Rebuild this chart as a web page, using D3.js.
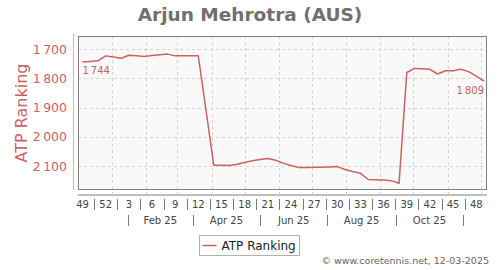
<!DOCTYPE html>
<html>
<head>
<meta charset="utf-8">
<script src="https://cdn.jsdelivr.net/npm/d3@7"></script>
<style>
  html, body { margin: 0; padding: 0; background: #fff; }
  svg { display: block; font-family: "DejaVu Sans", sans-serif; }
</style>
</head>
<body>
<div id="chart"></div>
<script>
// weekly ATP ranking, first point is week 49 of 2024
const startDate = Date.UTC(2024, 11, 5);
const ranks = [
  1744, 1742, 1740, 1723, 1727, 1731, 1721, 1723, 1725, 1722,
  1719, 1717, 1723, 1723, 1723, 1723, 1910, 2097, 2097, 2098,
  2094, 2088, 2082, 2078, 2074, 2080, 2090, 2098, 2105, 2105,
  2104, 2104, 2103, 2102, 2112, 2119, 2125, 2146, 2147, 2148,
  2150, 2159, 1780, 1766, 1767, 1769, 1785, 1774, 1774, 1769,
  1777, 1792, 1809
];
const weekLabels = ["49", "52", "3", "6", "9", "12", "15", "18", "21", "24", "27", "30", "33", "36", "39", "42", "45", "48"];
const monthLabels = ["Feb 25", "Apr 25", "Jun 25", "Aug 25", "Oct 25"];
const yTicks = [1700, 1800, 1900, 2000, 2100];

const width = 500, height = 270;
const plot = { left: 78, right: 487, top: 36, bottom: 190 };
const red = "#cd6161";

const data = ranks.map((r, i) => ({ date: d3.utcDay.offset(new Date(startDate), 7 * i), rank: r }));

const x = d3.scaleUtc()
    .domain(d3.extent(data, d => d.date))
    .range([plot.left + 4.5, plot.right - 3]);

const y = d3.scaleLinear()
    .domain([1655, 2182])
    .range([plot.top, plot.bottom]);

const fmt = v => d3.format(",")(v).replace(",", "\u2009");

const svg = d3.create("svg")
    .attr("width", width)
    .attr("height", height)
    .attr("viewBox", [0, 0, width, height]);

// title
svg.append("text")
    .attr("x", 250).attr("y", 21)
    .attr("text-anchor", "middle")
    .attr("font-size", 18.5).attr("font-weight", "bold")
    .attr("fill", "#707070")
    .text("Arjun Mehrotra (AUS)");

// plot background
svg.append("rect")
    .attr("x", plot.left).attr("y", plot.top)
    .attr("width", plot.right - plot.left).attr("height", plot.bottom - plot.top)
    .attr("fill", "#f9f9f9");

// grid
const monthStarts = d3.utcMonth.range(new Date(Date.UTC(2025, 0, 1)), new Date(Date.UTC(2025, 11, 2)));
svg.append("g")
    .attr("stroke", "#d4d4d4").attr("stroke-dasharray", "3,3")
  .selectAll("line")
  .data(monthStarts)
  .join("line")
    .attr("x1", d => Math.round(x(d)) + 0.5).attr("x2", d => Math.round(x(d)) + 0.5)
    .attr("y1", plot.top).attr("y2", plot.bottom);

svg.append("g")
    .attr("stroke", "#d4d4d4").attr("stroke-dasharray", "3,3")
  .selectAll("line")
  .data(yTicks)
  .join("line")
    .attr("x1", plot.left).attr("x2", plot.right)
    .attr("y1", d => Math.round(y(d)) + 0.5).attr("y2", d => Math.round(y(d)) + 0.5);

// frame
svg.append("rect")
    .attr("x", plot.left + 0.5).attr("y", plot.top + 0.5)
    .attr("width", plot.right - plot.left - 1).attr("height", plot.bottom - plot.top - 1)
    .attr("fill", "none").attr("stroke", "#808080");

// y axis
svg.append("line")
    .attr("x1", 73.5).attr("x2", 73.5)
    .attr("y1", plot.top - 3).attr("y2", plot.bottom)
    .attr("stroke", "#dfb0b0");

svg.append("g")
  .selectAll("text")
  .data(yTicks)
  .join("text")
    .attr("x", 67).attr("y", d => y(d) + 4.5)
    .attr("text-anchor", "end")
    .attr("font-size", 12.5)
    .attr("fill", red)
    .text(fmt);

svg.append("text")
    .attr("transform", `translate(27,${(plot.top + plot.bottom) / 2}) rotate(-90)`)
    .attr("text-anchor", "middle")
    .attr("font-size", 16)
    .attr("fill", red)
    .text("ATP Ranking");

// x axis
const axisY = 195;
svg.append("line")
    .attr("x1", plot.left).attr("x2", plot.right)
    .attr("y1", axisY).attr("y2", axisY)
    .attr("stroke", "#a8a8a8").attr("stroke-width", 1.3);

svg.append("g")
    .attr("stroke", "#cfcfcf")
  .selectAll("line")
  .data(monthStarts)
  .join("line")
    .attr("x1", d => Math.round(x(d)) + 0.5).attr("x2", d => Math.round(x(d)) + 0.5)
    .attr("y1", axisY - 3).attr("y2", axisY);

const weekPos = weekLabels.map((w, i) => x(data[i * 3].date));
svg.append("g")
  .selectAll("text")
  .data(weekLabels)
  .join("text")
    .attr("x", (d, i) => weekPos[i]).attr("y", 208)
    .attr("text-anchor", "middle")
    .attr("font-size", 10)
    .attr("fill", "#444")
    .text(d => d);

svg.append("g")
    .attr("stroke", "#777")
  .selectAll("line")
  .data(d3.pairs(weekPos))
  .join("line")
    .attr("x1", d => Math.round((d[0] + d[1]) / 2) + 0.5).attr("x2", d => Math.round((d[0] + d[1]) / 2) + 0.5)
    .attr("y1", 199).attr("y2", 210);

const monthSeps = [0, 2, 4, 6, 8, 10].map(m => x(new Date(Date.UTC(2025, m, 15))));
svg.append("g")
    .attr("stroke", "#777")
  .selectAll("line")
  .data(monthSeps)
  .join("line")
    .attr("x1", d => Math.round(d) + 0.5).attr("x2", d => Math.round(d) + 0.5)
    .attr("y1", 215).attr("y2", 226);

svg.append("g")
  .selectAll("text")
  .data(monthLabels)
  .join("text")
    .attr("x", (d, i) => (monthSeps[i] + monthSeps[i + 1]) / 2).attr("y", 224)
    .attr("text-anchor", "middle")
    .attr("font-size", 10)
    .attr("fill", "#444")
    .text(d => d);

// ranking line
const line = d3.line()
    .x(d => x(d.date))
    .y(d => y(d.rank));

svg.append("path")
    .datum(data)
    .attr("fill", "none")
    .attr("stroke", red)
    .attr("stroke-width", 1.5)
    .attr("stroke-linejoin", "round")
    .attr("d", line);

const first = data[0], last = data[data.length - 1];
svg.append("text")
    .attr("x", x(first.date)).attr("y", y(first.rank) + 12)
    .attr("font-size", 10).attr("fill", red)
    .text(fmt(first.rank));
svg.append("text")
    .attr("x", x(last.date)).attr("y", y(last.rank) + 13)
    .attr("text-anchor", "end")
    .attr("font-size", 10).attr("fill", red)
    .text(fmt(last.rank));

// legend
const legend = svg.append("g").attr("transform", "translate(199.5,235.5)");
legend.append("rect")
    .attr("width", 100).attr("height", 20)
    .attr("fill", "#fff").attr("stroke", "#b0b0b0");
legend.append("line")
    .attr("x1", 3).attr("x2", 17).attr("y1", 10).attr("y2", 10)
    .attr("stroke", red).attr("stroke-width", 1.5);
legend.append("text")
    .attr("x", 22).attr("y", 14.5)
    .attr("font-size", 12).attr("fill", "#222")
    .text("ATP Ranking");

// footer
svg.append("text")
    .attr("x", 489).attr("y", 264)
    .attr("text-anchor", "end")
    .attr("font-size", 9.5).attr("fill", "#666")
    .text("\u00a9 www.coretennis.net, 12-03-2025");

document.getElementById("chart").append(svg.node());
</script>
</body>
</html>
